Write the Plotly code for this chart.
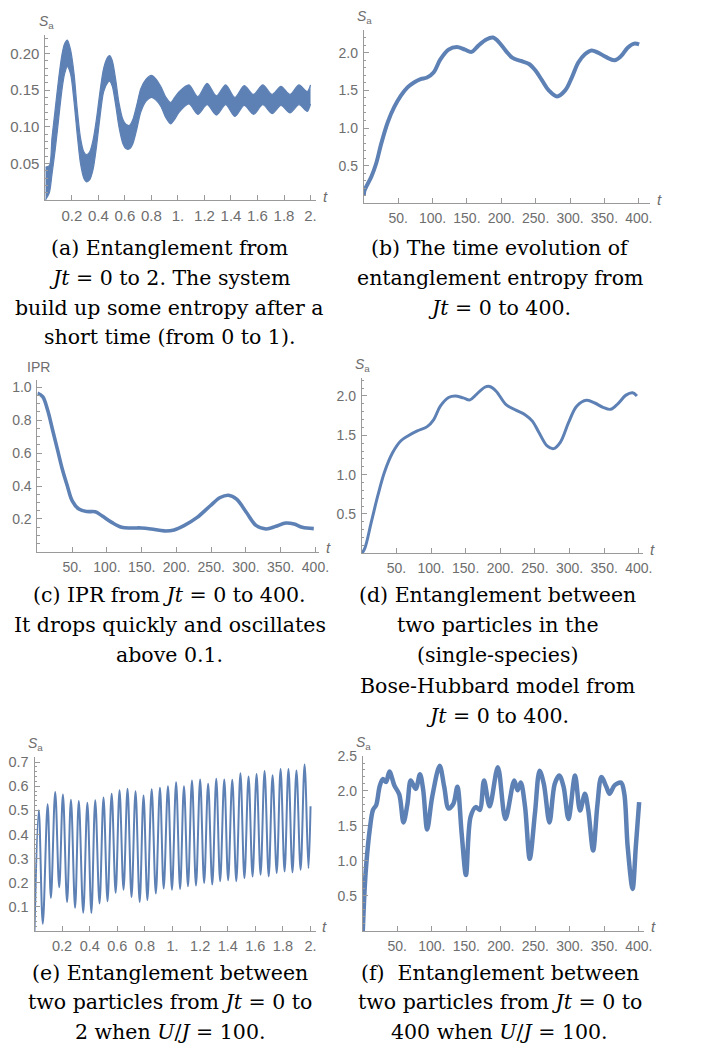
import plotly.graph_objects as go

W, H = 705, 1049
BLUE = "#5E81B5"
AXC = "#9a9a9a"
TXC = "#6e6e6e"

# ---------------- data ----------------
# (a) entanglement Jt 0..2 : fast-oscillation band, upper / lower envelopes
a_t = [0.0, 0.03, 0.05, 0.075, 0.1, 0.125, 0.145, 0.166, 0.19, 0.216, 0.24, 0.265, 0.29, 0.31,
       0.335, 0.36, 0.385, 0.41, 0.44, 0.47, 0.485, 0.505, 0.53, 0.555, 0.585, 0.61, 0.635, 0.66,
       0.69, 0.72, 0.76, 0.8, 0.83, 0.87, 0.91, 0.945, 0.975, 1.01, 1.083, 1.15, 1.22, 1.29,
       1.36, 1.43, 1.50, 1.57, 1.64, 1.71, 1.777, 1.845, 1.913, 1.975, 2.0]
a_upper = [0.045, 0.047, 0.085, 0.125, 0.165, 0.198, 0.213, 0.218, 0.205, 0.173, 0.125, 0.085,
           0.066, 0.062, 0.066, 0.082, 0.11, 0.145, 0.18, 0.195, 0.197, 0.19, 0.165, 0.133, 0.11,
           0.103, 0.102, 0.11, 0.13, 0.152, 0.165, 0.17, 0.166, 0.155, 0.14, 0.133, 0.14, 0.148,
           0.157, 0.141, 0.159, 0.142, 0.157, 0.14, 0.156, 0.144, 0.157, 0.144, 0.155, 0.144,
           0.157, 0.148, 0.157]
a_lower = [0.0, 0.01, 0.035, 0.07, 0.11, 0.15, 0.172, 0.182, 0.172, 0.135, 0.09, 0.05, 0.03,
           0.025, 0.028, 0.042, 0.072, 0.11, 0.148, 0.16, 0.162, 0.155, 0.13, 0.1, 0.077, 0.07,
           0.07, 0.077, 0.097, 0.12, 0.135, 0.14, 0.137, 0.128, 0.112, 0.104, 0.11, 0.12, 0.131,
           0.117, 0.13, 0.116, 0.13, 0.114, 0.129, 0.117, 0.13, 0.118, 0.129, 0.119, 0.13, 0.121,
           0.131]

# (b) entanglement entropy Jt 0..400
b_t = [0, 1, 11, 18, 25.3, 35, 44.4, 54, 63.6, 73, 82.7, 92, 101.8, 111.4, 123.3, 135.2, 147.2,
       156.7, 166.3, 178.2, 187.8, 197.4, 206.9, 216.5, 228.4, 240.4, 250, 259.5, 269, 281,
       292.9, 302.5, 312, 321.6, 331.2, 340.7, 352.7, 364.6, 374.2, 383.8, 393.3, 400.5]
b_s = [0.1, 0.17, 0.355, 0.53, 0.79, 1.08, 1.28, 1.43, 1.54, 1.605, 1.65, 1.67, 1.74, 1.91, 2.04,
       2.075, 2.04, 2.01, 2.09, 2.175, 2.2, 2.13, 2.02, 1.93, 1.89, 1.85, 1.76, 1.63, 1.5, 1.42,
       1.5, 1.67, 1.87, 1.98, 2.03, 2.0, 1.94, 1.9, 1.955, 2.065, 2.12, 2.11]

# (c) IPR Jt 0..400
c_t = [0, 7.5, 14.6, 21.7, 28.8, 35.9, 43, 50, 59.6, 71.4, 83.2, 92.7, 106.8, 121, 135.2, 149.4,
       163.6, 182.5, 196.7, 210.9, 229.8, 248.7, 262.9, 274.8, 286.5, 300.7, 314.9, 329, 343.3,
       357.4, 369.2, 381, 397.6]
c_ipr = [0.965, 0.943, 0.862, 0.742, 0.621, 0.5, 0.4, 0.31, 0.26, 0.245, 0.243, 0.219, 0.179,
         0.149, 0.145, 0.145, 0.139, 0.127, 0.133, 0.159, 0.209, 0.28, 0.33, 0.344, 0.32, 0.239,
         0.159, 0.139, 0.155, 0.175, 0.169, 0.149, 0.141]

# (d) single-species Bose-Hubbard entanglement Jt 0..400
d_t = [0, 4.3, 13.8, 23.2, 32.7, 44.6, 56.5, 68.3, 80.1, 94.4, 103.9, 113.4, 125.3, 134.8, 146.6,
       156.1, 165.6, 177.5, 184.6, 194, 208.3, 222.5, 236.7, 246.3, 255.8, 267.6, 277.1, 286.6,
       298.5, 310.3, 324.6, 336.4, 348.3, 359.2, 369.7, 381.5, 391, 397.2]
d_s = [0.0, 0.063, 0.4, 0.735, 1.03, 1.28, 1.43, 1.5, 1.555, 1.61, 1.7, 1.87, 1.98, 2.0, 1.975,
       1.95, 2.02, 2.11, 2.12, 2.06, 1.89, 1.82, 1.755, 1.68, 1.535, 1.365, 1.33, 1.41, 1.66, 1.87,
       1.945, 1.91, 1.855, 1.83, 1.9, 2.01, 2.04, 2.0]

# (e) U/J = 100, Jt 0..2 (alternating maxima / minima)
e_t = [0.0, 0.031, 0.06, 0.095, 0.119, 0.15, 0.179, 0.206, 0.236, 0.264, 0.294, 0.321, 0.353,
       0.383, 0.412, 0.44, 0.471, 0.5, 0.529, 0.559, 0.588, 0.616, 0.645, 0.674, 0.703, 0.732,
       0.762, 0.79, 0.818, 0.849, 0.879, 0.909, 0.936, 0.967, 0.996, 1.026, 1.055, 1.083, 1.112,
       1.141, 1.17, 1.2, 1.229, 1.258, 1.288, 1.317, 1.345, 1.375, 1.403, 1.433, 1.462, 1.492,
       1.521, 1.551, 1.58, 1.609, 1.638, 1.667, 1.697, 1.725, 1.755, 1.783, 1.812, 1.84, 1.869,
       1.898, 1.928, 1.957, 1.985, 2.0]
e_s = [0.0, 0.50, 0.03, 0.525, 0.137, 0.576, 0.181, 0.566, 0.12, 0.544, 0.096, 0.539, 0.075,
       0.531, 0.075, 0.542, 0.114, 0.553, 0.123, 0.569, 0.158, 0.583, 0.171, 0.59, 0.141, 0.579,
       0.12, 0.562, 0.128, 0.587, 0.155, 0.594, 0.176, 0.6, 0.171, 0.616, 0.174, 0.6, 0.185,
       0.624, 0.188, 0.628, 0.199, 0.61, 0.192, 0.631, 0.206, 0.628, 0.21, 0.627, 0.206, 0.654,
       0.219, 0.64, 0.226, 0.651, 0.233, 0.663, 0.226, 0.645, 0.24, 0.671, 0.247, 0.671, 0.243,
       0.665, 0.254, 0.69, 0.26, 0.517]

# (f) U/J = 100, Jt 0..400
f_t = [0, 2.9, 5.2, 10, 14.8, 19.5, 24.3, 29, 33.8, 38.6, 45.7, 52.9, 59, 64.8, 69.5, 76.7, 82.9,
       87.6, 93.3, 100.5, 111.4, 118, 124.3, 131.4, 137.1, 143.3, 149.5, 156.2, 163.8, 169.5,
       175.7, 183.8, 195.7, 206.7, 219.5, 224.3, 229, 235.2, 241.9, 249.5, 256.2, 262.4, 270.5,
       278.1, 284.8, 291, 298.1, 307.6, 314.8, 321.9, 326.7, 333.8, 340, 345.7, 352.9, 357.6,
       364.8, 374.3, 379, 383.8, 391, 395.7, 400.5]
f_s = [0.0, 0.64, 0.97, 1.44, 1.73, 1.8, 2.06, 2.17, 2.13, 2.28, 2.08, 1.95, 1.55, 1.82, 2.15,
       2.03, 2.24, 2.01, 1.45, 1.91, 2.36, 2.06, 1.75, 1.82, 2.06, 1.39, 0.8, 1.63, 1.77, 1.73,
       2.15, 1.78, 2.34, 1.6, 2.15, 2.01, 2.12, 1.77, 1.03, 1.68, 2.29, 2.1, 1.55, 2.1, 2.22,
       2.06, 1.6, 2.22, 1.72, 1.96, 1.73, 1.15, 1.8, 2.2, 2.06, 1.96, 2.08, 2.12, 1.96, 1.21,
       0.6, 1.21, 1.84]

# tick labels
x2_vals = [0.2, 0.4, 0.6, 0.8, 1.0, 1.2, 1.4, 1.6, 1.8, 2.0]
x2_text = ["0.2", "0.4", "0.6", "0.8", "1.", "1.2", "1.4", "1.6", "1.8", "2."]
x400_vals = [50, 100, 150, 200, 250, 300, 350, 400]
x400_text = ["50.", "100.", "150.", "200.", "250.", "300.", "350.", "400."]
ya_vals = [0.05, 0.10, 0.15, 0.20]
ya_text = ["0.05", "0.10", "0.15", "0.20"]
yb_vals = [0.5, 1.0, 1.5, 2.0]
yb_text = ["0.5", "1.0", "1.5", "2.0"]
yc_vals = [0.2, 0.4, 0.6, 0.8, 1.0]
yc_text = ["0.2", "0.4", "0.6", "0.8", "1.0"]
ye_vals = [0.1, 0.2, 0.3, 0.4, 0.5, 0.6, 0.7]
ye_text = ["0.1", "0.2", "0.3", "0.4", "0.5", "0.6", "0.7"]
yf_vals = [0.5, 1.0, 1.5, 2.0, 2.5]
yf_text = ["0.5", "1.0", "1.5", "2.0", "2.5"]

captions = {
    "a": ["(a) Entanglement from", "<i>Jt</i> = 0 to 2. The system",
          "build up some entropy after a", "short time (from 0 to 1)."],
    "b": ["(b) The time evolution of", "entanglement entropy from", "<i>Jt</i> = 0 to 400."],
    "c": ["(c) IPR from <i>Jt</i> = 0 to 400.", "It drops quickly and oscillates", "above 0.1."],
    "d": ["(d) Entanglement between", "two particles in the", "(single-species)",
          "Bose-Hubbard model from", "<i>Jt</i> = 0 to 400."],
    "e": ["(e) Entanglement between", "two particles from <i>Jt</i> = 0 to",
          "2 when <i>U</i>/<i>J</i> = 100."],
    "f": ["(f)  Entanglement between", "two particles from <i>Jt</i> = 0 to",
          "400 when <i>U</i>/<i>J</i> = 100."],
}

# ---------------- geometry (pixels) ----------------
geo = {
    "a": dict(x0=46, xs=134.5, xmax=2.04, y0=193.7, ys=740, ymax=0.225, tfs=15,
              xv=x2_vals, xt=x2_text, yv=ya_vals, yt=ya_text, ymin=0.01, ylab="<i>S</i><sub>a</sub>"),
    "b": dict(x0=369, xs=0.6975, xmax=417, y0=197, ys=76, ymax=2.3, tfs=14,
              xv=x400_vals, xt=x400_text, yv=yb_vals, yt=yb_text, ymin=0.1, ylab="<i>S</i><sub>a</sub>"),
    "c": dict(x0=38, xs=0.705, xmax=405, y0=548, ys=165.8, ymax=1.043, tfs=14,
              xv=x400_vals, xt=x400_text, yv=yc_vals, yt=yc_text, ymin=0.05, ylab="IPR"),
    "d": dict(x0=367, xs=0.7025, xmax=406, y0=549.5, ys=79.3, ymax=2.23, tfs=14,
              xv=x400_vals, xt=x400_text, yv=yb_vals, yt=yb_text, ymin=0.1, ylab="<i>S</i><sub>a</sub>"),
    "e": dict(x0=35, xs=140, xmax=2.036, y0=930, ys=243, ymax=0.72, tfs=14.5,
              xv=x2_vals, xt=x2_text, yv=ye_vals, yt=ye_text, ymin=0.02, ylab="<i>S</i><sub>a</sub>"),
    "f": dict(x0=368, xs=0.70, xmax=407, y0=930, ys=70.5, ymax=2.5, tfs=14,
              xv=x400_vals, xt=x400_text, yv=yf_vals, yt=yf_text, ymin=0.1, ylab="<i>S</i><sub>a</sub>"),
}
cap_pos = {
    "a": (172, [242, 272, 302, 332]),
    "b": (507, [242, 272, 302]),
    "c": (172, [592, 622, 652]),
    "d": (505, [592, 622, 652, 683, 713]),
    "e": (172, [972, 1002, 1032]),
    "f": (507, [972, 1002, 1032]),
}

fig = go.Figure()
layout = dict(width=W, height=H, margin=dict(l=0, r=0, t=0, b=0),
              paper_bgcolor="white", plot_bgcolor="white", showlegend=False)
annotations = []
SANS = "Liberation Sans, Arial, sans-serif"

for i, key in enumerate(["a", "b", "c", "d", "e", "f"]):
    g = geo[key]
    n = "" if i == 0 else str(i + 1)
    xa, ya = "x" + n, "y" + n
    x1 = g["x0"] + g["xmax"] * g["xs"]
    ytop = g["y0"] - g["ymax"] * g["ys"]
    common = dict(showgrid=False, zeroline=False, showline=True, linecolor=AXC, linewidth=1,
                  ticks="inside", ticklen=5, tickwidth=1, tickcolor=AXC,
                  tickfont=dict(family=SANS, size=g["tfs"], color=TXC),
                  fixedrange=True)
    layout["xaxis" + n] = dict(common, domain=[g["x0"] / W, x1 / W], range=[0, g["xmax"]],
                               anchor=ya, tickvals=g["xv"], ticktext=g["xt"], ticklabelstandoff=2)
    layout["yaxis" + n] = dict(common, domain=[1 - g["y0"] / H, 1 - ytop / H], range=[0, g["ymax"]],
                               anchor=xa, tickvals=g["yv"], ticktext=g["yt"], ticklabelstandoff=2,
                               minor=dict(ticks="inside", ticklen=2.5, tickcolor=AXC, dtick=g["ymin"],
                                          tick0=0, showgrid=False))
    annotations.append(dict(xref="paper", yref="paper", x=(g["x0"] + 1) / W, y=1 - (ytop - 13) / H,
                            text=g["ylab"], showarrow=False, xanchor="center", yanchor="middle",
                            font=dict(family=SANS, size=14, color=TXC)))
    annotations.append(dict(xref="paper", yref="paper", x=(x1 + 5) / W, y=1 - (g["y0"] - 4) / H,
                            text="<i>t</i>", showarrow=False, xanchor="left", yanchor="middle",
                            font=dict(family=SANS, size=15, color=TXC)))
    cx, ys_ = cap_pos[key]
    for line, yy in zip(captions[key], ys_):
        annotations.append(dict(xref="paper", yref="paper", x=cx / W, y=1 - yy / H, text=line,
                                showarrow=False, xanchor="center", yanchor="middle",
                                font=dict(family="DejaVu Serif, serif", size=20.5, color="black")))

# traces
fig.add_trace(go.Scatter(x=a_t, y=a_lower, mode="lines", xaxis="x", yaxis="y",
                         line=dict(color=BLUE, width=1.2, shape="spline", smoothing=0.8),
                         hoverinfo="skip"))
fig.add_trace(go.Scatter(x=a_t, y=a_upper, mode="lines", xaxis="x", yaxis="y", fill="tonexty",
                         fillcolor=BLUE, line=dict(color=BLUE, width=1.2, shape="spline", smoothing=0.8),
                         hoverinfo="skip"))
fig.add_trace(go.Scatter(x=b_t, y=b_s, mode="lines", xaxis="x2", yaxis="y2",
                         line=dict(color=BLUE, width=4, shape="spline", smoothing=1.0)))
fig.add_trace(go.Scatter(x=c_t, y=c_ipr, mode="lines", xaxis="x3", yaxis="y3",
                         line=dict(color=BLUE, width=3.6, shape="spline", smoothing=1.0)))
fig.add_trace(go.Scatter(x=d_t, y=d_s, mode="lines", xaxis="x4", yaxis="y4",
                         line=dict(color=BLUE, width=3, shape="spline", smoothing=1.0)))
fig.add_trace(go.Scatter(x=e_t, y=e_s, mode="lines", xaxis="x5", yaxis="y5",
                         line=dict(color=BLUE, width=2, shape="spline", smoothing=1.0)))
fig.add_trace(go.Scatter(x=f_t, y=f_s, mode="lines", xaxis="x6", yaxis="y6",
                         line=dict(color=BLUE, width=4.5, shape="spline", smoothing=0.9)))

layout["annotations"] = annotations
fig.update_layout(**layout)
fig.write_html("out.html", config={"displayModeBar": False, "staticPlot": True},
               post_script="document.body.style.margin='0';document.body.style.padding='0';"
                           "document.body.style.overflow='hidden';"
                           "document.documentElement.style.overflow='hidden';")
